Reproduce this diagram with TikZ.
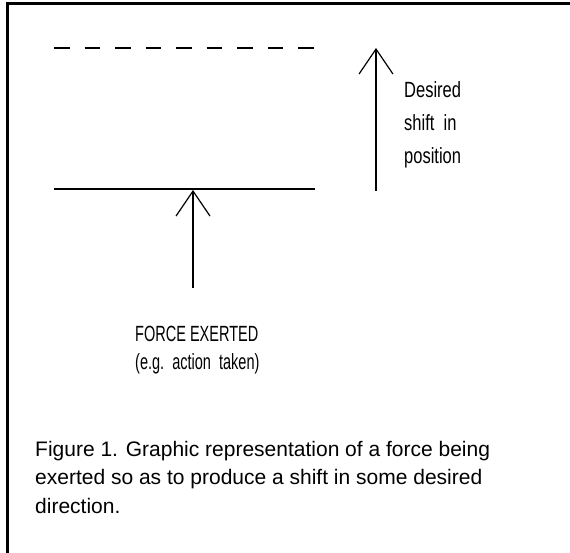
\documentclass[tikz,border=0pt]{standalone}
\usepackage{fontspec}
\setmainfont{Liberation Sans}
\newfontfamily\narrowfont[FakeStretch=0.75]{Liberation Sans}
\newfontfamily\tightfont[FakeStretch=0.66]{Liberation Sans}
\usetikzlibrary{arrows.meta}

\begin{document}
\begin{tikzpicture}[x=1pt,y=-1pt,
  shiftarrow/.style={line width=1.5pt,-{Straight Barb[length=25pt,width=34pt,line width=1.2pt]}},
  level/.style={line width=1.6pt},
  textblock/.style={inner sep=0pt,align=left,anchor=base west}]
\useasboundingbox (0,0) rectangle (570,553);
% frame (top and left edge only)
\draw[line width=2.8pt] (7.5,553) -- (7.5,3.6) -- (570,3.6);
% desired and present levels
\draw[level,dash pattern=on 15.5pt off 15pt] (54,48) -- (315,48);
\draw[level] (54,189) -- (315,189);
% arrows
\coordinate (forcebase) at (193,288);
\coordinate (forcetip) at (193,190);
\coordinate (shiftbase) at (376,191);
\coordinate (shifttip) at (376,48);
\draw[shiftarrow] (forcebase) -- (forcetip);
\draw[shiftarrow] (shiftbase) -- (shifttip);
% labels (anchored at the baseline of the last line)
\node[textblock,font=\narrowfont\fontsize{22}{33}\selectfont] (shifttext) at (404,164)
  {Desired\\shift\ \ in\\position};
\node[textblock,font=\tightfont\fontsize{22}{28}\selectfont] (forcetext) at (135,369)
  {FORCE\hspace{4pt}EXERTED\\(e.g.\ \ action\ \ taken)};
\node[textblock,font=\fontsize{21}{28.5}\selectfont] (caption) at (35,513)
  {Figure 1. Graphic representation of a force being\\
   exerted so as to produce a shift in some desired\\
   direction.};
\end{tikzpicture}
\end{document}
